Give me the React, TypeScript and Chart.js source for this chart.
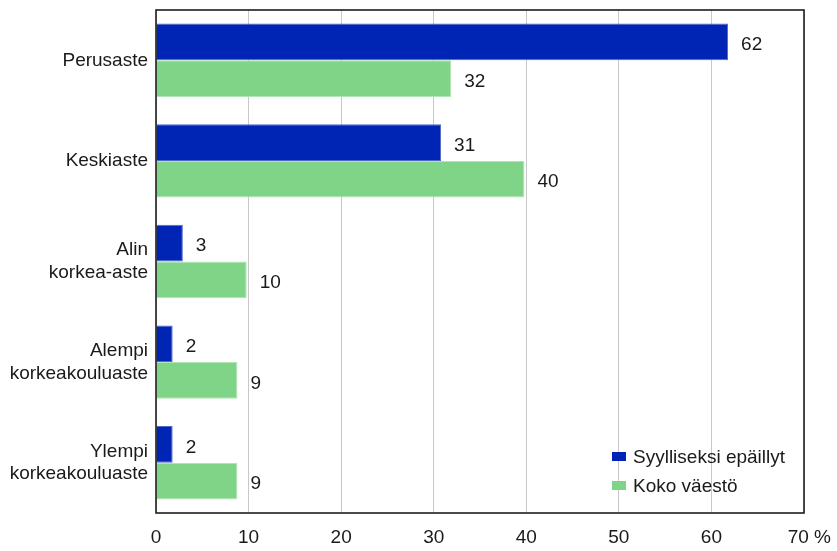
import React, { useEffect, useRef } from "react";
import { Chart, registerables } from "chart.js";

Chart.register(...registerables);

const categories: string[][] = [
  ["Perusaste"],
  ["Keskiaste"],
  ["Alin", "korkea-aste"],
  ["Alempi", "korkeakouluaste"],
  ["Ylempi", "korkeakouluaste"],
];
const seriesNames = ["Syylliseksi epäillyt", "Koko väestö"];
const suspects = [61.8, 30.8, 2.9, 1.8, 1.8];
const population = [31.9, 39.8, 9.8, 8.8, 8.8];
const xTickValues = [0, 10, 20, 30, 40, 50, 60, 70];
const xTickLabels = ["0", "10", "20", "30", "40", "50", "60", "  70 %"];

const FONT = "'Liberation Sans', Arial, Helvetica, sans-serif";
const FS = 19;
const BLUE = "#0025b5";
const GREEN = "#80d487";

const valueLabels = {
  id: "valueLabels",
  afterDatasetsDraw(chart: any) {
    const ctx = chart.ctx;
    ctx.save();
    ctx.font = `${FS}px ${FONT}`;
    ctx.fillStyle = "#1a1a1a";
    ctx.textAlign = "left";
    ctx.textBaseline = "middle";
    chart.data.datasets.forEach((ds: any, di: number) => {
      const meta = chart.getDatasetMeta(di);
      meta.data.forEach((bar: any, i: number) => {
        ctx.fillText(String(Math.round(ds.data[i])), bar.x + 13, bar.y + 3);
      });
    });
    ctx.restore();
  },
};

const frameAndLegend = {
  id: "frameAndLegend",
  afterDraw(chart: any) {
    const ctx = chart.ctx;
    const a = chart.chartArea;
    ctx.save();
    ctx.strokeStyle = "#1e1e1e";
    ctx.lineWidth = 1.6;
    ctx.strokeRect(a.left, a.top, a.right - a.left, a.bottom - a.top);
    // legend inside plot, bottom right
    ctx.font = `${FS}px ${FONT}`;
    ctx.textAlign = "left";
    ctx.textBaseline = "middle";
    chart.data.datasets.forEach((ds: any, i: number) => {
      const bx = a.right - 192;
      const by = a.bottom - 61 + i * 29;
      ctx.fillStyle = ds.backgroundColor;
      ctx.fillRect(bx, by, 14, 9);
      ctx.fillStyle = "#1a1a1a";
      ctx.fillText(ds.label, bx + 21, by + 6);
    });
    ctx.restore();
  },
};

export default function App() {
  const ref = useRef<HTMLCanvasElement | null>(null);
  useEffect(() => {
    document.body.style.margin = "0";
    const canvas = ref.current;
    if (!canvas) return;
    const chart = new Chart(canvas, {
      type: "bar",
      data: {
        labels: categories as any,
        datasets: [
          {
            label: seriesNames[0],
            data: suspects,
            backgroundColor: BLUE,
            borderColor: "#5066c8",
            borderWidth: 1,
            barPercentage: 1,
            categoryPercentage: 0.73,
          },
          {
            label: seriesNames[1],
            data: population,
            backgroundColor: GREEN,
            borderColor: "#b0e6b4",
            borderWidth: 1,
            barPercentage: 1,
            categoryPercentage: 0.73,
          },
        ],
      },
      options: {
        indexAxis: "y",
        responsive: false,
        animation: false,
        layout: { padding: { top: 10, right: 33, left: 0, bottom: 0 } },
        plugins: {
          legend: { display: false },
          tooltip: { enabled: false },
        },
        scales: {
          x: {
            type: "linear",
            min: 0,
            max: 70,
            afterBuildTicks(scale: any) {
              scale.ticks = xTickValues.map((v) => ({ value: v }));
            },
            afterFit(scale: any) {
              scale.height = 38;
              scale.paddingLeft = 0;
              scale.paddingRight = 0;
            },
            grid: {
              color: "#c8c8c8",
              lineWidth: 1,
              drawTicks: false,
            },
            border: { display: false },
            ticks: {
              padding: 13,
              color: "#1a1a1a",
              font: { family: FONT, size: FS },
              maxRotation: 0,
              autoSkip: false,
              callback: (v: any) => {
                const idx = xTickValues.indexOf(Number(v));
                return idx >= 0 ? xTickLabels[idx] : "";
              },
            },
          },
          y: {
            type: "category",
            afterFit(scale: any) {
              scale.width = 156;
              scale.paddingTop = 0;
              scale.paddingBottom = 0;
            },
            grid: { display: false, drawTicks: false },
            border: { display: false },
            ticks: {
              padding: 8,
              color: "#1a1a1a",
              font: { family: FONT, size: FS, lineHeight: 1.2 },
              autoSkip: false,
            },
          },
        },
      },
      plugins: [valueLabels, frameAndLegend],
    } as any);
    return () => chart.destroy();
  }, []);
  return (
    <div style={{ width: 837, height: 551, background: "#fff" }}>
      <canvas ref={ref} width={837} height={551} style={{ width: 837, height: 551, display: "block" }} />
    </div>
  );
}
